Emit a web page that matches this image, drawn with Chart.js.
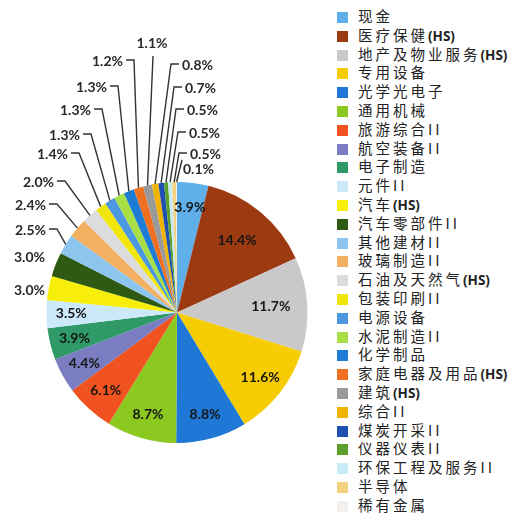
<!DOCTYPE html>
<html>
<head>
<meta charset="utf-8">
<script src="https://cdn.jsdelivr.net/npm/chart.js@4/dist/chart.umd.min.js"></script>
<style>
    body { margin: 0; background: #fff; }
    #wrap { position: relative; width: 520px; height: 513px; }
    #pie { position: absolute; left: 0; top: 0; }
    #legend { position: absolute; left: 337px; top: 7px; margin: 0; padding: 0; list-style: none; }
    #legend li {
        height: 18.8px; line-height: 18.8px; white-space: nowrap;
        font-family: "Noto Sans CJK SC", sans-serif; font-size: 14.5px;
        letter-spacing: 3px; color: #222;
    }
    #legend li span.box {
        display: inline-block; width: 11px; height: 11px; margin-right: 10px;
        vertical-align: -1px;
    }
    #legend li span.latin {
        letter-spacing: 0; font-family: "Open Sans", sans-serif; font-weight: bold; font-size: 13.5px;
    }
</style>
</head>
<body>
<div id="wrap">
    <canvas id="pie" width="330" height="513"></canvas>
    <ul id="legend"></ul>
</div>
<script>
// categories
const sectors = [
    '现金', '医疗保健(HS)', '地产及物业服务(HS)', '专用设备', '光学光电子', '通用机械',
    '旅游综合II', '航空装备II', '电子制造', '元件II', '汽车(HS)', '汽车零部件II',
    '其他建材II', '玻璃制造II', '石油及天然气(HS)', '包装印刷II', '电源设备', '水泥制造II',
    '化学制品', '家庭电器及用品(HS)', '建筑(HS)', '综合II', '煤炭开采II', '仪器仪表II',
    '环保工程及服务II', '半导体', '稀有金属'
];
// weights in %
const weights = [
    3.9, 14.4, 11.7, 11.6, 8.8, 8.7,
    6.1, 4.4, 3.9, 3.5, 3.0, 3.0,
    2.5, 2.4, 2.0, 1.4, 1.3, 1.3,
    1.3, 1.2, 1.1, 0.8, 0.7, 0.5,
    0.5, 0.5, 0.1
];
const sliceColors = [
    '#5fb0ea', '#9c3b12', '#c9c9c9', '#f6cd05', '#1f78d6', '#8cc920',
    '#f0531f', '#7b7dc2', '#2f9a68', '#cbe9f8', '#f7ef0a', '#2f5a14',
    '#8ec5ee', '#f4b062', '#dcdcdc', '#f0e60a', '#4b98e0', '#a8df44',
    '#1d7dd6', '#f07022', '#9a9a9a', '#f0b405', '#1f50b0', '#5aa02a',
    '#c8ecf5', '#f4d282', '#f3efec'
];

// slices labelled inside the pie
const insideCount = 10;
// outside labels: text x, y, align, leader kind
const callouts = [
    [45, 290, 'right', 'none'],
    [45, 257, 'right', 'none'],
    [46, 230, 'right', 'elbow'],
    [46, 205, 'right', 'elbow'],
    [54, 182, 'right', 'elbow'],
    [68, 154, 'right', 'elbow'],
    [80, 135, 'right', 'elbow'],
    [91, 110, 'right', 'elbow'],
    [107, 87, 'right', 'elbow'],
    [123, 61, 'right', 'elbow'],
    [152, 43, 'center', 'drop'],
    [182, 65, 'left', 'elbow'],
    [185, 88, 'left', 'elbow'],
    [187, 110, 'left', 'elbow'],
    [189, 133, 'left', 'elbow'],
    [190, 154, 'left', 'elbow'],
    [183, 169, 'left', 'drop']
];

const pctLabels = {
    id: 'pctLabels',
    afterDatasetsDraw(chart) {
        const ctx = chart.ctx;
        const arcs = chart.getDatasetMeta(0).data;
        ctx.save();
        ctx.font = 'bold 14px Lato, "Open Sans", sans-serif';
        ctx.textBaseline = 'middle';
        arcs.forEach(function (arc, i) {
            const p = arc.getProps(['x', 'y', 'startAngle', 'endAngle', 'outerRadius'], true);
            const mid = (p.startAngle + p.endAngle) / 2;
            const text = weights[i].toFixed(1) + '%';
            if (i < insideCount) {
                let k = (i === 1 || i === 2) ? 0.72 : 0.81;
                ctx.fillStyle = '#151515';
                ctx.textAlign = 'center';
                ctx.fillText(text, p.x + Math.cos(mid) * p.outerRadius * k, p.y + Math.sin(mid) * p.outerRadius * k);
                return;
            }
            const c = callouts[i - insideCount];
            ctx.fillStyle = '#2a2a2a';
            ctx.textAlign = c[2];
            ctx.fillText(text, c[0], c[1]);
            if (c[3] === 'none') return;
            const ex = p.x + Math.cos(mid) * p.outerRadius;
            const ey = p.y + Math.sin(mid) * p.outerRadius;
            ctx.strokeStyle = '#333';
            ctx.lineWidth = 1.4;
            ctx.beginPath();
            if (c[3] === 'elbow') {
                let dir = c[2] === 'right' ? 1 : -1;
                let sx = c[0] + dir * 3;
                ctx.moveTo(sx, c[1] - 1);
                ctx.lineTo(sx + dir * 8, c[1] - 1);
                ctx.lineTo(ex, ey);
            } else {
                let sy = c[2] === 'center' ? c[1] + 13 : c[1] - 9;
                ctx.moveTo(c[2] === 'center' ? c[0] + 1 : c[0] - 1, sy);
                ctx.lineTo(ex, ey);
            }
            ctx.stroke();
        });
        ctx.restore();
    }
};

const data = {
    labels: sectors,
    datasets: [{
        data: weights,
        backgroundColor: sliceColors,
        borderWidth: 0
    }]
};

const config = {
    type: 'pie',
    data: data,
    options: {
        responsive: false,
        animation: false,
        layout: { padding: { left: 46, right: 22, top: 182, bottom: 70 } },
        plugins: {
            legend: { display: false },
            tooltip: { enabled: false }
        }
    },
    plugins: [pctLabels]
};

const myChart = new Chart(document.getElementById('pie'), config);

// legend built from the same arrays
let legend = document.getElementById('legend');
sectors.forEach(function (name, i) {
    let li = document.createElement('li');
    let box = document.createElement('span');
    box.className = 'box';
    box.style.background = sliceColors[i];
    li.appendChild(box);
    // latin suffix like (HS) is set tighter, as in the original
    let m = name.match(/^(.*?)(\(HS\))$/);
    li.appendChild(document.createTextNode(m ? m[1] : name));
    if (m) {
        let latin = document.createElement('span');
        latin.className = 'latin';
        latin.textContent = m[2];
        li.appendChild(latin);
    }
    legend.appendChild(li);
});
</script>
</body>
</html>
